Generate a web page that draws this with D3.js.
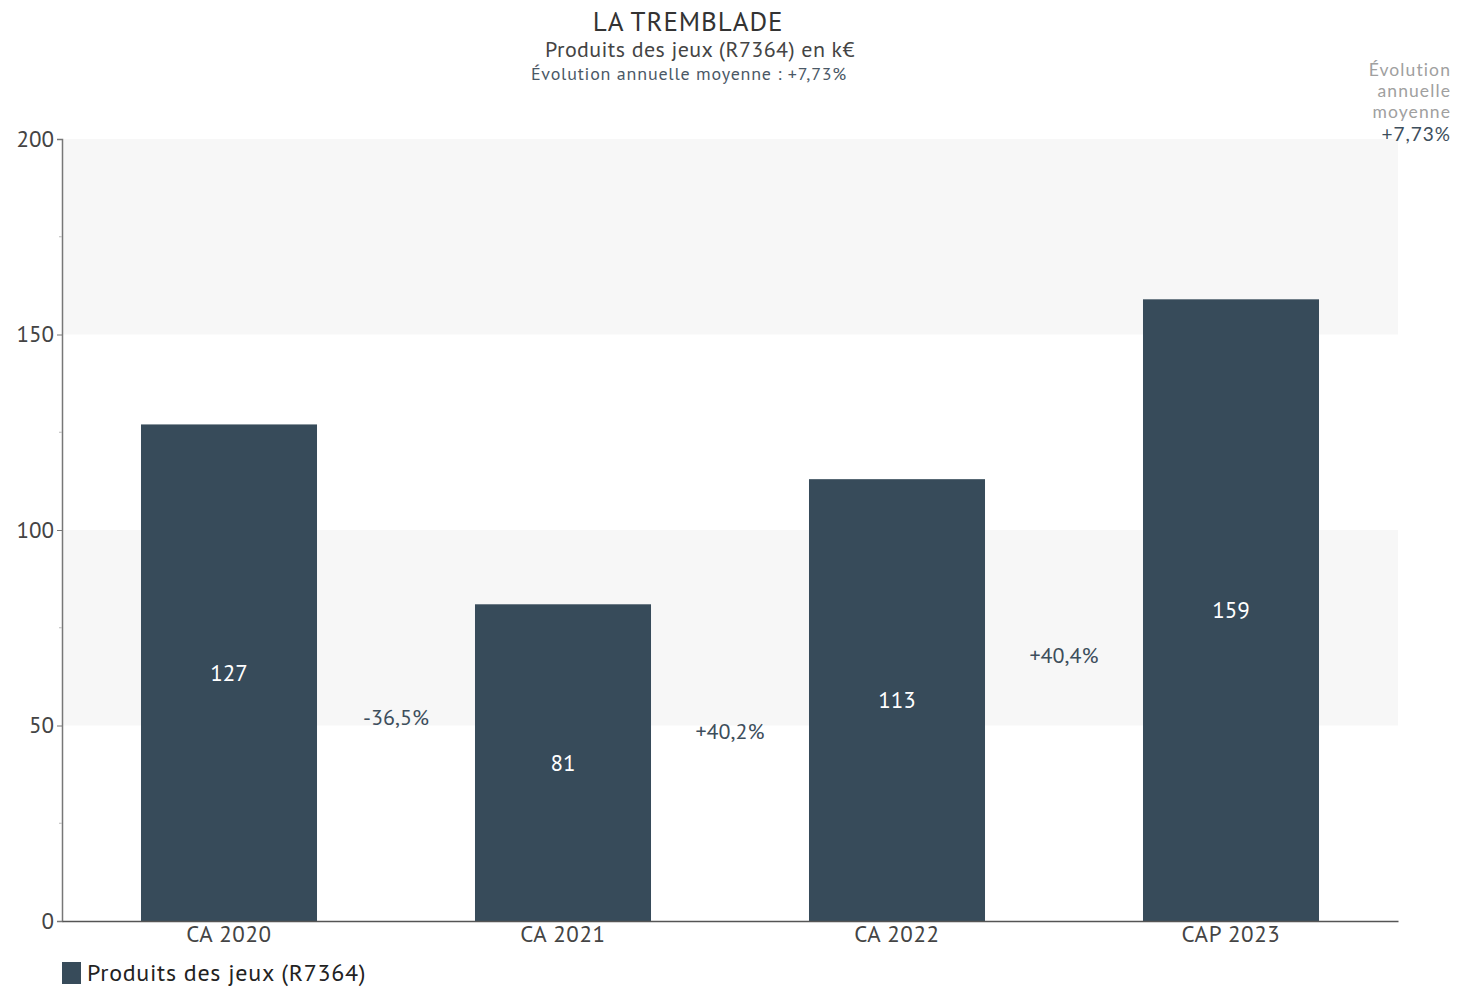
<!DOCTYPE html>
<html>
<head>
<meta charset="utf-8">
<script src="https://cdn.jsdelivr.net/npm/d3@7"></script>
<style>
  body { margin: 0; background: #fff; }
  svg { display: block; font-family: "PT Sans", "Open Sans", "Noto Sans", sans-serif; }
</style>
</head>
<body>
<svg id="chart" width="1458" height="987"></svg>
<script>
// Produits des jeux (R7364), k€
const categories = ["CA 2020", "CA 2021", "CA 2022", "CAP 2023"];
const values = [127, 81, 113, 159];
const changes = ["-36,5%", "+40,2%", "+40,4%"];
const yTicks = [0, 50, 100, 150, 200];
const seriesName = "Produits des jeux (R7364)";
const avgGrowth = "+7,73%";
const noteLines = ["Évolution", "annuelle", "moyenne"];

const svg = d3.select("#chart");
const margin = { left: 62, right: 60, top: 139, bottom: 66 };
const W = 1458, H = 987;
const fontFamily = "'PT Sans', 'Open Sans', 'Noto Sans', sans-serif";

const x = d3.scaleBand().domain(categories).range([margin.left, W - margin.right]).paddingInner(0.473).paddingOuter(0.2365);
const y = d3.scaleLinear().domain([0, 200]).range([H - margin.bottom, margin.top]);

const barColor = "#374b5a";

// alternating background bands
const bands = [[50, 100], [150, 200]];
svg.append("g").selectAll("rect").data(bands).join("rect")
  .attr("x", margin.left).attr("width", W - margin.right - margin.left)
  .attr("y", d => y(d[1])).attr("height", d => y(d[0]) - y(d[1]))
  .attr("fill", "#f7f7f7");

// bars
svg.append("g").selectAll("rect").data(values).join("rect")
  .attr("x", (d, i) => x(categories[i])).attr("width", x.bandwidth())
  .attr("y", d => y(d)).attr("height", d => y(0) - y(d))
  .attr("fill", barColor);

// value labels inside bars
svg.append("g").selectAll("text").data(values).join("text")
  .attr("x", (d, i) => x(categories[i]) + x.bandwidth() / 2)
  .attr("y", d => (y(d) + y(0)) / 2)
  .attr("dy", "0.35em")
  .attr("text-anchor", "middle")
  .attr("fill", "#fff").attr("font-size", 23)
  .text(d => d);

// year-over-year change labels between bars
svg.append("g").selectAll("text").data(changes).join("text")
  .attr("x", (d, i) => (x(categories[i]) + x.bandwidth() + x(categories[i + 1])) / 2)
  .attr("y", (d, i) => ((y(values[i]) + y(0)) / 2 + (y(values[i + 1]) + y(0)) / 2) / 2)
  .attr("dy", "0.35em")
  .attr("text-anchor", "middle")
  .attr("fill", "#3d4e5c").attr("font-size", 22)
  .text(d => d);

// y axis
const yAxis = d3.axisLeft(y).tickValues(yTicks).tickSize(5).tickPadding(3);
const yg = svg.append("g").attr("transform", `translate(${margin.left},0)`).call(yAxis)
  .attr("font-family", fontFamily);
yg.select(".domain").attr("stroke", "#777").attr("stroke-width", 1.5);
yg.selectAll(".tick line").attr("stroke", "#777");
yg.selectAll(".tick text").attr("font-size", 23).attr("fill", "#444");
// minor ticks
const minor = d3.range(25, 200, 50);
svg.append("g").selectAll("line").data(minor).join("line")
  .attr("x1", margin.left - 3).attr("x2", margin.left)
  .attr("y1", d => y(d)).attr("y2", d => y(d))
  .attr("stroke", "#bbb");

// x axis
const xAxis = d3.axisBottom(x).tickSize(0).tickPadding(5);
const xg = svg.append("g").attr("transform", `translate(0,${y(0)})`).call(xAxis)
  .attr("font-family", fontFamily);
xg.select(".domain").attr("stroke", "#555").attr("stroke-width", 1.5);
xg.selectAll(".tick text").attr("font-size", 23).attr("letter-spacing", 0.6).attr("fill", "#444");

// titles
svg.append("text").attr("x", 688).attr("y", 31).attr("text-anchor", "middle")
  .attr("font-size", 27).attr("letter-spacing", 0.9).attr("fill", "#333").text("LA TREMBLADE");
svg.append("text").attr("x", 700).attr("y", 57).attr("text-anchor", "middle")
  .attr("font-size", 22).attr("letter-spacing", 0.4).attr("fill", "#444").text("Produits des jeux (R7364) en k€");
svg.append("text").attr("x", 689).attr("y", 80).attr("text-anchor", "middle")
  .attr("font-size", 18).attr("letter-spacing", 0.8).attr("fill", "#4a5866")
  .text("Évolution annuelle moyenne : " + avgGrowth);

// average growth note, top right (compact line metrics)
const note = svg.append("g").attr("text-anchor", "end").attr("font-family", "Lato, sans-serif");
noteLines.forEach((t, i) => {
  note.append("text").attr("x", 1451).attr("y", 76 + i * 21)
    .attr("font-size", 17.5).attr("letter-spacing", 1.1).attr("fill", "#a0a0a0").text(t);
});
note.append("text").attr("x", 1451).attr("y", 141)
  .attr("font-size", 19).attr("letter-spacing", 1).attr("fill", "#3d4e5c").text(avgGrowth);

// legend
svg.append("rect").attr("x", 62).attr("y", 962).attr("width", 19).attr("height", 22).attr("fill", barColor);
svg.append("text").attr("x", 87).attr("y", 981).attr("font-size", 24).attr("letter-spacing", 0.7)
  .attr("fill", "#222").text(seriesName);
</script>
</body>
</html>
